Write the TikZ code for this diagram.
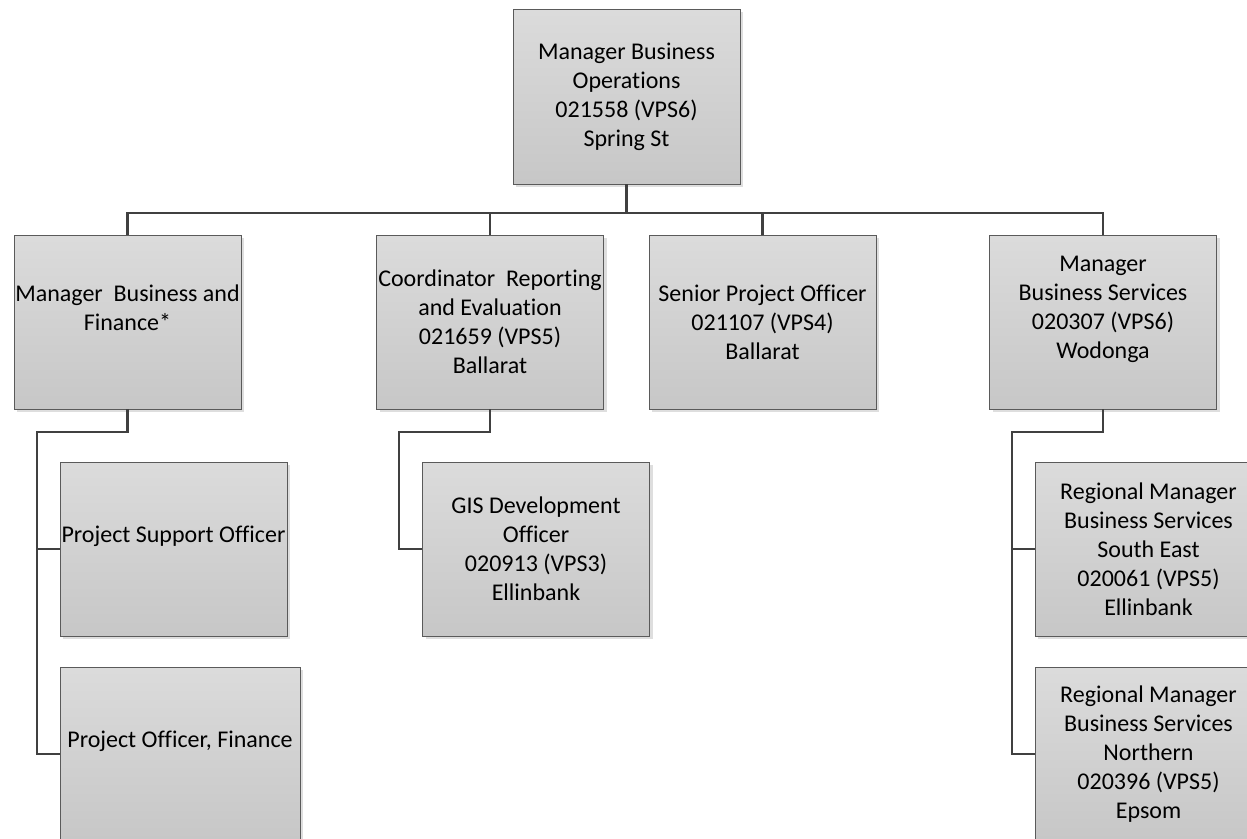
\documentclass[tikz,border=0pt]{standalone}
\usepackage{fontspec}
\setmainfont[Ligatures={NoCommon}]{Carlito}
\usetikzlibrary{shadows}
\definecolor{boxline}{HTML}{5A5A5A}
\definecolor{connline}{HTML}{404040}
\definecolor{shadowgray}{HTML}{DEDEDE}
\tikzset{
  orgbox/.style={draw=boxline, line width=0.9pt, top color=black!14, bottom color=black!22,
    minimum width=227pt, minimum height=175pt, inner sep=0pt, align=center,
    font=\fontsize{24}{29}\selectfont,
    drop shadow={shadow xshift=3pt, shadow yshift=-3pt, fill=shadowgray, opacity=1}},
  conn/.style={draw=connline, line width=2.6pt}
}
\begin{document}
\begin{tikzpicture}[x=1pt,y=-1pt]
\useasboundingbox (0,0) rectangle (1247,838);
\clip (0,0) rectangle (1247,838);
% boxes
\node[orgbox] (top) at (626.5,96.5) {Manager Business\\Operations\\021558 (VPS6)\\Spring St};
\node[orgbox, minimum height=174pt] (b1) at (127.5,322) {Manager\ \ Business and\\Finance*\\~};
\node[orgbox, minimum height=174pt] (b2) at (490,322) {Coordinator\ \ Reporting\\and Evaluation\\021659 (VPS5)\\Ballarat};
\node[orgbox, minimum height=174pt] (b3) at (762.5,322) {Senior Project Officer\\021107 (VPS4)\\Ballarat};
\node[orgbox, minimum height=174pt] (b4) at (1103,322) {Manager\\Business Services\\020307 (VPS6)\\Wodonga\\~};
\node[orgbox, minimum height=174pt] (pso) at (173.5,549) {Project Support Officer\\~};
\node[orgbox, minimum height=174pt, minimum width=240pt] (pof) at (180,754) {Project Officer, Finance\\~};
\node[orgbox, minimum height=174pt] (gis) at (536,549) {GIS Development\\Officer\\020913 (VPS3)\\Ellinbank};
\node[orgbox, minimum height=174pt] (rmse) at (1148.5,549) {Regional Manager\\Business Services\\South East\\020061 (VPS5)\\Ellinbank};
\node[orgbox, minimum height=174pt] (rmn) at (1148.5,754) {Regional Manager\\Business Services\\Northern\\020396 (VPS5)\\Epsom};
% junctions
\coordinate (bar) at (626.5,213);
\coordinate (j1) at (37,432);
\coordinate (j2) at (399,432);
\coordinate (j4) at (1012,432);
% connectors
\draw[conn] (top.south) -- (bar);
\draw[conn] (b1.north) |- (bar) -| (b4.north);
\draw[conn] (b2.north) -- (b2.north |- bar);
\draw[conn] (b3.north) -- (b3.north |- bar);
\draw[conn] (b1.south) |- (j1) |- (pso.west);
\draw[conn] (j1) |- (pof.west);
\draw[conn] (b2.south) |- (j2) |- (gis.west);
\draw[conn] (b4.south) |- (j4) |- (rmse.west);
\draw[conn] (j4) |- (rmn.west);
\end{tikzpicture}
\end{document}
